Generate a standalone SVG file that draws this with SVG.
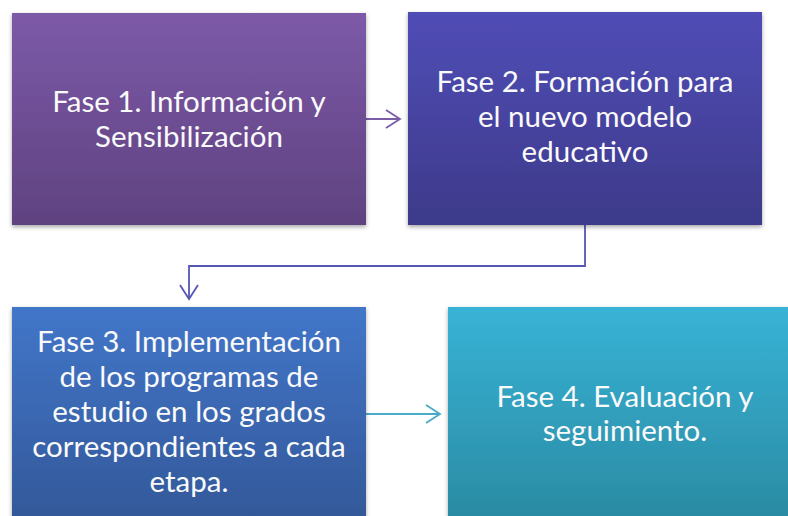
<svg xmlns="http://www.w3.org/2000/svg" width="788" height="516" viewBox="0 0 788 516">
<defs>
<linearGradient id="g1" x1="0" y1="0" x2="0" y2="1"><stop offset="0" stop-color="#7c5aa8"/><stop offset="1" stop-color="#5f4280"/></linearGradient>
<linearGradient id="g2" x1="0" y1="0" x2="0" y2="1"><stop offset="0" stop-color="#504db6"/><stop offset="1" stop-color="#3d3a8a"/></linearGradient>
<linearGradient id="g3" x1="0" y1="0" x2="0" y2="1"><stop offset="0" stop-color="#4276c9"/><stop offset="1" stop-color="#335899"/></linearGradient>
<linearGradient id="g4" x1="0" y1="0" x2="0" y2="1"><stop offset="0" stop-color="#38b3d6"/><stop offset="1" stop-color="#2a8aa2"/></linearGradient>
<filter id="sh" x="-10%" y="-10%" width="120%" height="125%"><feDropShadow dx="0" dy="2" stdDeviation="2" flood-color="#000" flood-opacity="0.35"/></filter>
<marker id="a1" markerWidth="20" markerHeight="22" refX="16" refY="11" orient="auto" markerUnits="userSpaceOnUse"><path d="M2,2 L16,11 L2,20" fill="none" stroke="#7b5ca8" stroke-width="1.8"/></marker>
<marker id="a2" markerWidth="20" markerHeight="22" refX="16" refY="11" orient="auto" markerUnits="userSpaceOnUse"><path d="M2,2 L16,11 L2,20" fill="none" stroke="#5558b3" stroke-width="1.8"/></marker>
<marker id="a3" markerWidth="20" markerHeight="22" refX="16" refY="11" orient="auto" markerUnits="userSpaceOnUse"><path d="M2,2 L16,11 L2,20" fill="none" stroke="#4aaac8" stroke-width="1.8"/></marker>
</defs>
<style>
text{font-family:Lato,"Liberation Sans",sans-serif;font-size:29.5px;fill:#fafafa;text-anchor:middle}
.c{fill:none;stroke-width:1.8}
</style>
<rect width="788" height="516" fill="#fff"/>
<g id="connectors">
<path class="c" d="M366,119 H400" stroke="#7b5ca8" marker-end="url(#a1)"/>
<path class="c" d="M585,225 V266 H189 V299" stroke="#5558b3" marker-end="url(#a2)"/>
<path class="c" d="M366,414 H440" stroke="#4aaac8" marker-end="url(#a3)"/>
</g>
<g id="fase1">
<rect x="12" y="13" width="354" height="212" fill="url(#g1)" filter="url(#sh)"/>
<text x="189" y="112">Fase 1. Información y</text>
<text x="189" y="147">Sensibilización</text>
</g>
<g id="fase2">
<rect x="408" y="12" width="354" height="213" fill="url(#g2)" filter="url(#sh)"/>
<text x="585" y="92">Fase 2. Formación para</text>
<text x="585" y="127">el nuevo modelo</text>
<text x="585" y="162">educativo</text>
</g>
<g id="fase3">
<rect x="12" y="307" width="354" height="215" fill="url(#g3)" filter="url(#sh)"/>
<text x="189" y="352">Fase 3. Implementación</text>
<text x="189" y="387">de los programas de</text>
<text x="189" y="422">estudio en los grados</text>
<text x="189" y="457">correspondientes a cada</text>
<text x="189" y="492">etapa.</text>
</g>
<g id="fase4">
<rect x="448" y="307" width="354" height="215" fill="url(#g4)" filter="url(#sh)"/>
<text x="625" y="407">Fase 4. Evaluación y</text>
<text x="625" y="441">seguimiento.</text>
</g>
</svg>
